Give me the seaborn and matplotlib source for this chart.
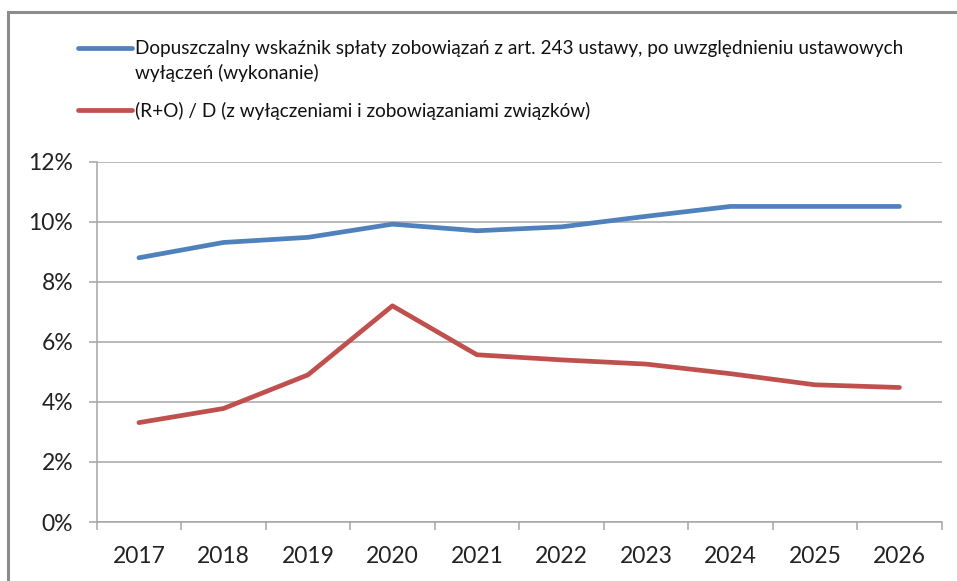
import matplotlib
matplotlib.use("Agg")
import matplotlib.pyplot as plt
import matplotlib.ticker as mticker
from matplotlib.patches import Rectangle
import seaborn as sns
import pandas as pd

years = ["2017", "2018", "2019", "2020", "2021", "2022", "2023", "2024", "2025", "2026"]
series_blue_name = "Dopuszczalny wskaźnik spłaty zobowiązań z art. 243 ustawy, po uwzględnieniu ustawowych\nwyłączeń (wykonanie)"
series_red_name = "(R+O) / D (z wyłączeniami i zobowiązaniami związków)"
blue_values = [8.80, 9.31, 9.48, 9.92, 9.70, 9.83, 10.18, 10.51, 10.51, 10.51]
red_values = [3.31, 3.78, 4.90, 7.20, 5.57, 5.40, 5.26, 4.94, 4.57, 4.48]
y_ticks = [0, 2, 4, 6, 8, 10, 12]

df = pd.concat([
    pd.DataFrame({"year": years, "value": blue_values, "series": series_blue_name}),
    pd.DataFrame({"year": years, "value": red_values, "series": series_red_name}),
])

sns.set_theme(style="white")
plt.rcParams["font.family"] = ["Lato", "DejaVu Sans"]

fig = plt.figure(figsize=(9.57, 5.81), dpi=100)
ax = fig.add_axes([0.101, 0.1015, 0.883, 0.6202])

palette = {series_blue_name: "#4F81BD", series_red_name: "#C0504D"}
sns.lineplot(data=df, x="year", y="value", hue="series", palette=palette,
             linewidth=3.4, ax=ax, sort=False, legend=True)

ax.set_xlim(-0.5, len(years) - 0.5)
ax.set_ylim(0, 12)
ax.set_yticks(y_ticks)
ax.yaxis.set_major_formatter(mticker.FuncFormatter(lambda v, p: f"{v:.0f}%"))
ax.set_xlabel("")
ax.set_ylabel("")

grid_c = "#A6A6A6"
ax.yaxis.grid(True, color=grid_c, linewidth=1.1)
ax.set_axisbelow(True)
for s in ["top", "right"]:
    ax.spines[s].set_visible(False)
for s in ["left", "bottom"]:
    ax.spines[s].set_color(grid_c)
    ax.spines[s].set_linewidth(1.1)

ax.tick_params(axis="y", which="major", direction="out", length=6, width=1.1,
               color=grid_c, left=True, pad=11, labelsize=16.5, labelcolor="#222222")
ax.tick_params(axis="x", which="major", length=0, pad=17, labelsize=16.5,
               labelcolor="#222222")
ax.set_xticks([i - 0.5 for i in range(len(years) + 1)], minor=True)
ax.tick_params(axis="x", which="minor", direction="out", length=6, width=1.1,
               color=grid_c, bottom=True)

handles, labels = ax.get_legend_handles_labels()
ax.legend_.remove()
fs = 13.7
lsp = 1.45
leg = fig.legend(handles, labels, loc="upper left", bbox_to_anchor=(0.0815, 0.931),
                 frameon=False, fontsize=fs, handlelength=2.85, handletextpad=0.15,
                 labelspacing=1.05, borderpad=0, borderaxespad=0,
                 labelcolor="#111111")
for t in leg.get_texts():
    t.set_linespacing(lsp)
# put the first handle level with the first line of its two-line label
ln = leg.get_lines()[0]
ln.set_ydata([y + 0.5 * 1.45 * fs * 0.95 for y in ln.get_ydata()])

fig.patches.append(Rectangle((0.0085, -0.05), 1.05, 1.0291, transform=fig.transFigure,
                             fill=False, edgecolor="#8C8C8C", linewidth=2.2,
                             clip_on=False))

fig.savefig("out.png", dpi=100)
